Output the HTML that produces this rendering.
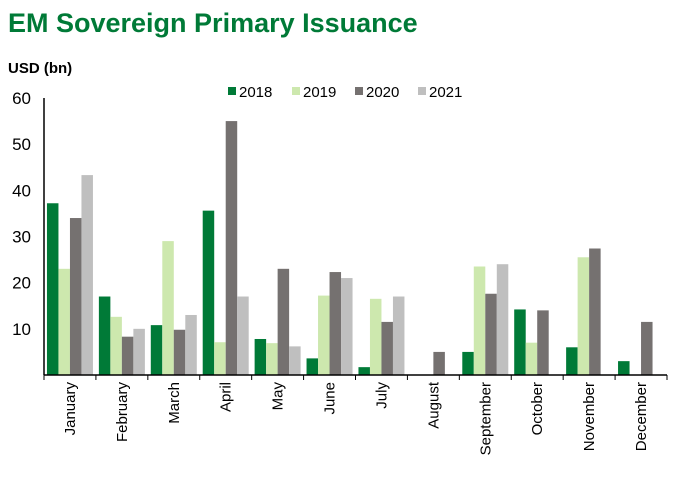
<!DOCTYPE html>
<html><head><meta charset="utf-8"><style>
body{margin:0;background:#fff;font-family:"Liberation Sans",Arial,sans-serif}
svg text{font-family:"Liberation Sans",Arial,sans-serif}
</style></head><body>
<svg id="chart" width="674" height="483">
<text x="8" y="32" font-size="27" font-weight="bold" fill="#007a37">EM Sovereign Primary Issuance</text>
<text x="8" y="73" font-size="15" font-weight="bold" fill="#000">USD (bn)</text>
<g id="legend"></g>
<g id="bars"></g>
<g id="axes"></g>
</svg>
<script>
const categories=["January","February","March","April","May","June","July","August","September","October","November","December"];
const seriesNames=["2018","2019","2020","2021"];
const s2018=[37.2,17,10.8,35.6,7.8,3.6,1.7,0,5,14.2,6,3];
const s2019=[23,12.6,29,7.1,6.9,17.2,16.5,0,23.5,7,25.5,0];
const s2020=[34,8.3,9.8,55,23,22.3,11.5,5,17.6,14,27.4,11.5];
const s2021=[43.3,10,13,17,6.2,21,17,0,24,0,0,0];
const yTicks=[10,20,30,40,50,60];
const colors=["#007a37","#cde8ae","#757170","#bfbfbf"];
const series=[s2018,s2019,s2020,s2021];
const NS="http://www.w3.org/2000/svg";
const x0=44,x1=667,y0=375,yTop=98,yMax=60;
const bw=(x1-x0)/categories.length;
const y=v=>y0-(v/yMax)*(y0-yTop);
function el(t,a,p){const e=document.createElementNS(NS,t);for(const k in a)e.setAttribute(k,a[k]);p.appendChild(e);return e;}
const bars=document.getElementById('bars'),axes=document.getElementById('axes'),leg=document.getElementById('legend');
const barW=11.5;
categories.forEach((c,i)=>{
  const gx=x0+i*bw+(bw-4*barW)/2;
  series.forEach((s,j)=>{
    if(s[i]<=0)return;
    const r=el('rect',{x:gx+j*barW,y:y(s[i]),width:barW,height:y0-y(s[i]),fill:colors[j]},bars);
    
    
  });
  const tx=x0+i*bw+bw/2+5;
  const t=el('text',{x:tx,y:382,'font-size':15,'text-anchor':'end',transform:`rotate(-90 ${tx} 382)`},axes);
  t.textContent=c;
  
  
});
el('line',{x1:x0,y1:y0,x2:x1,y2:y0,stroke:'#000','stroke-width':1.5},axes);
el('line',{x1:x0,y1:yTop,x2:x0,y2:y0,stroke:'#000','stroke-width':1.5},axes);
for(let i=0;i<=categories.length;i++)el('line',{x1:x0+i*bw,y1:y0,x2:x0+i*bw,y2:y0+5,stroke:'#000'},axes);
yTicks.forEach(v=>{
  const t=el('text',{x:31,y:y(v)+6,'font-size':17,'text-anchor':'end'},axes);
  t.textContent=v;
  
  
});
const lx=[228,292,355,418];
seriesNames.forEach((n,j)=>{
  el('rect',{x:lx[j],y:87,width:8,height:8,fill:colors[j]},leg);
  const t=el('text',{x:lx[j]+11,y:97,'font-size':15},leg);
  t.textContent=n;
  
  
});
</script>
</body></html>
